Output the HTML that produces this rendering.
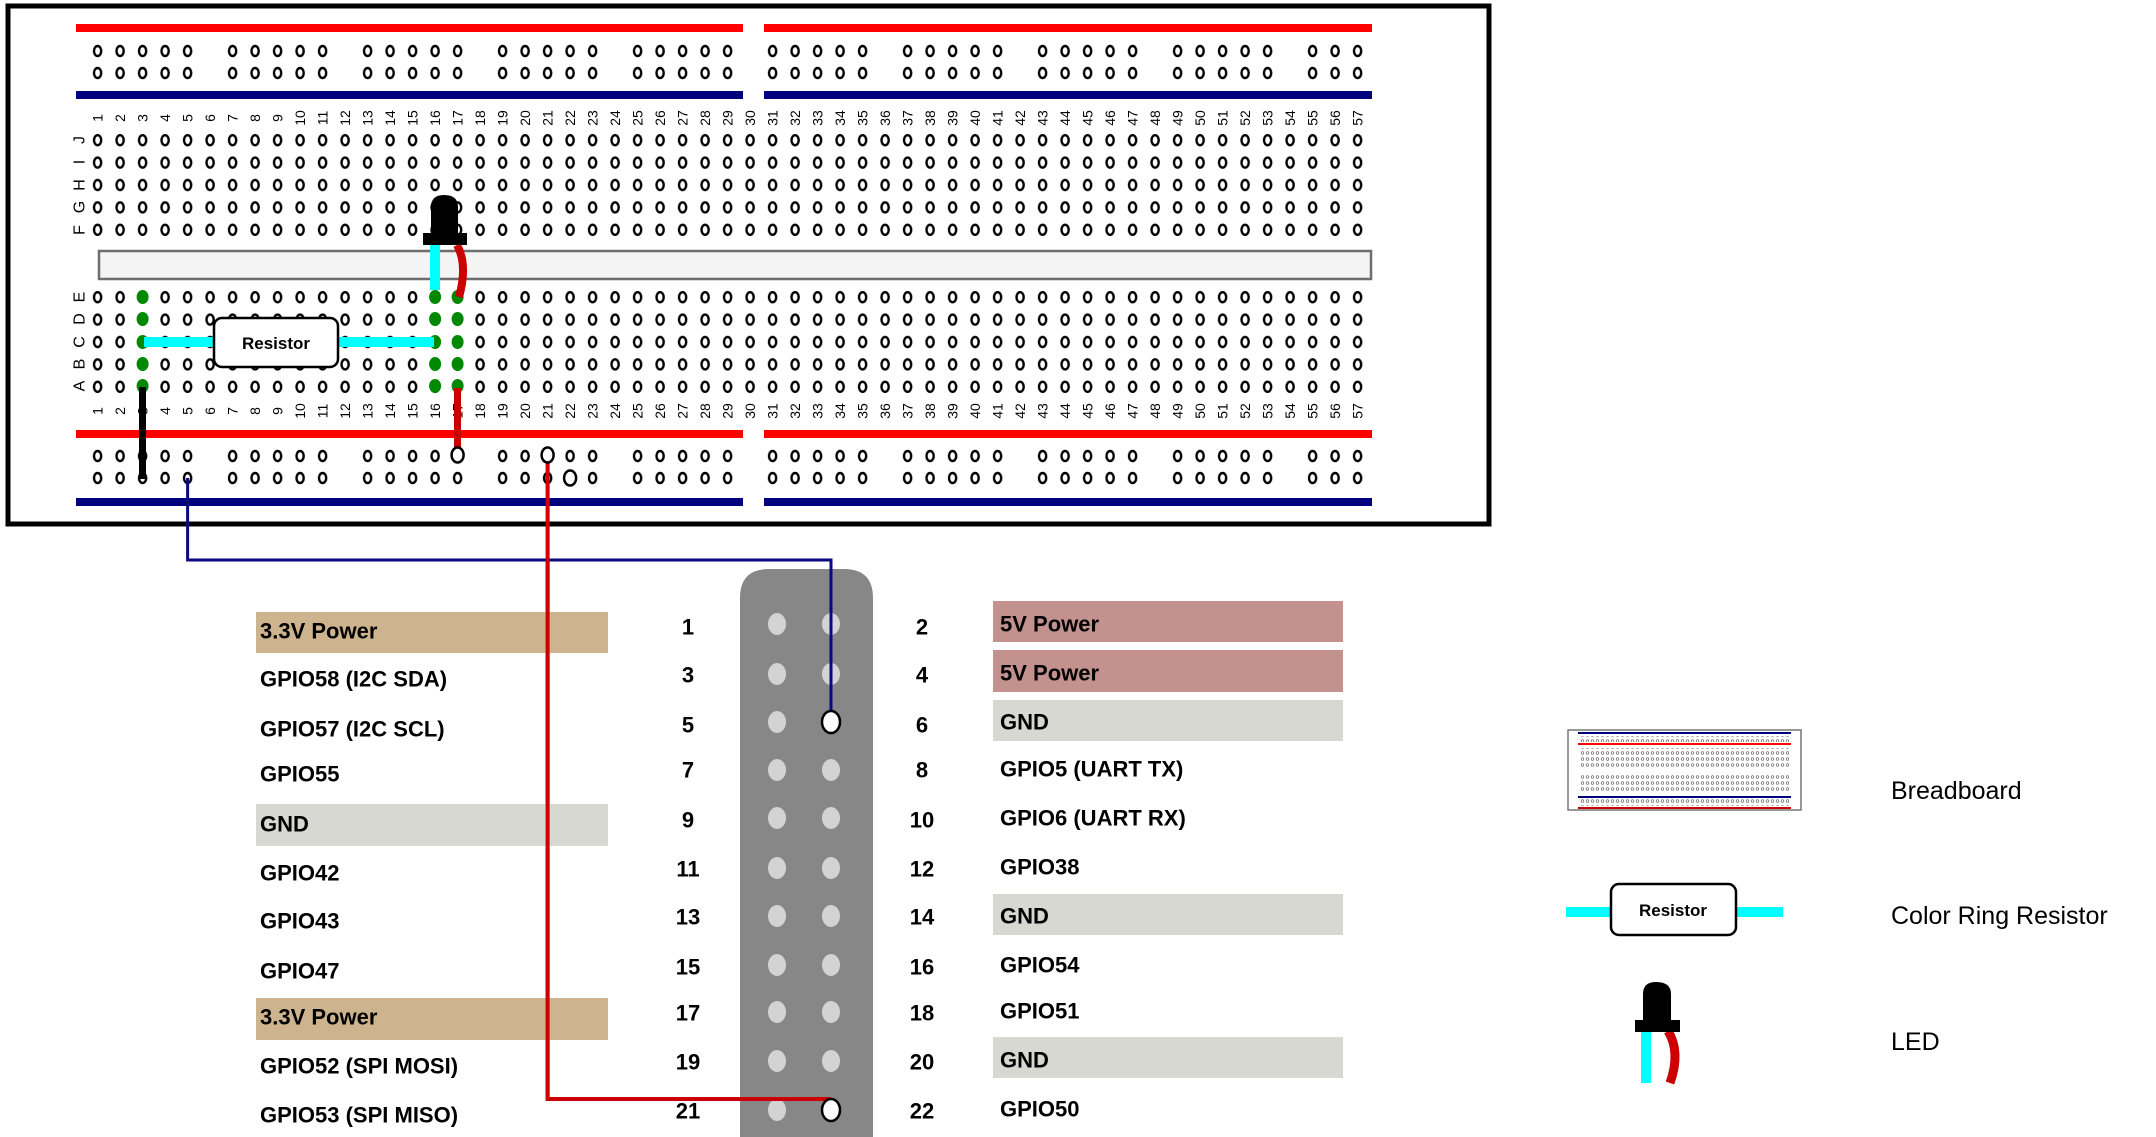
<!DOCTYPE html>
<html><head><meta charset="utf-8"><style>
html,body{margin:0;padding:0;background:#fff}
svg{display:block}
.n{font:14px "Liberation Sans",sans-serif;fill:#000}
.L{font:16px "Liberation Sans",sans-serif;fill:#000}
.p{font:bold 22px "Liberation Sans",sans-serif;fill:#000}
.g{font:25px "Liberation Sans",sans-serif;fill:#000}
</style></head><body>
<svg width="2156" height="1137" viewBox="0 0 2156 1137" xmlns="http://www.w3.org/2000/svg">
<defs>
<pattern id="h" x="86.35" y="129" width="22.5" height="22.4" patternUnits="userSpaceOnUse"><ellipse cx="11.25" cy="11.2" rx="3.6" ry="5" fill="#fff" stroke="#000" stroke-width="2.4"/></pattern>
<pattern id="hb" x="86.35" y="286" width="22.5" height="22.4" patternUnits="userSpaceOnUse"><ellipse cx="11.25" cy="11.2" rx="3.6" ry="5" fill="#fff" stroke="#000" stroke-width="2.4"/></pattern>
<pattern id="pt" x="86.35" y="40" width="22.5" height="22" patternUnits="userSpaceOnUse"><ellipse cx="11.25" cy="11" rx="3.6" ry="5" fill="#fff" stroke="#000" stroke-width="2.4"/></pattern>
<pattern id="pb" x="86.35" y="445" width="22.5" height="22" patternUnits="userSpaceOnUse"><ellipse cx="11.25" cy="11" rx="3.6" ry="5" fill="#fff" stroke="#000" stroke-width="2.4"/></pattern>
<pattern id="tiny" x="0" y="0" width="5" height="6" patternUnits="userSpaceOnUse"><circle cx="2.5" cy="3" r="1.3" fill="none" stroke="#666" stroke-width="0.7"/></pattern>
</defs>
<rect x="8" y="6" width="1481" height="518" fill="#fff" stroke="#000" stroke-width="5"/>
<g fill="#ff0000"><rect x="76" y="24" width="667" height="8"/><rect x="764" y="24" width="608" height="8"/><rect x="76" y="430" width="667" height="8"/><rect x="764" y="430" width="608" height="8"/></g>
<g fill="#00007f"><rect x="76" y="91" width="667" height="8"/><rect x="764" y="91" width="608" height="8"/><rect x="76" y="498" width="667" height="8"/><rect x="764" y="498" width="608" height="8"/></g>
<g fill="url(#pt)"><rect x="86.35" y="40" width="112.5" height="44"/><rect x="221.35" y="40" width="112.5" height="44"/><rect x="356.35" y="40" width="112.5" height="44"/><rect x="491.35" y="40" width="112.5" height="44"/><rect x="626.35" y="40" width="112.5" height="44"/><rect x="761.35" y="40" width="112.5" height="44"/><rect x="896.35" y="40" width="112.5" height="44"/><rect x="1031.35" y="40" width="112.5" height="44"/><rect x="1166.35" y="40" width="112.5" height="44"/><rect x="1301.35" y="40" width="67.5" height="44"/></g>
<g fill="url(#pb)"><rect x="86.35" y="445" width="112.5" height="44"/><rect x="221.35" y="445" width="112.5" height="44"/><rect x="356.35" y="445" width="112.5" height="44"/><rect x="491.35" y="445" width="112.5" height="44"/><rect x="626.35" y="445" width="112.5" height="44"/><rect x="761.35" y="445" width="112.5" height="44"/><rect x="896.35" y="445" width="112.5" height="44"/><rect x="1031.35" y="445" width="112.5" height="44"/><rect x="1166.35" y="445" width="112.5" height="44"/><rect x="1301.35" y="445" width="67.5" height="44"/></g>
<rect x="86.35" y="129" width="1282.5" height="112" fill="url(#h)"/>
<rect x="86.35" y="286" width="1282.5" height="112" fill="url(#hb)"/>
<rect x="99" y="251" width="1272" height="28" fill="#f4f4f4" stroke="#6e6e6e" stroke-width="2.5"/>
<g class="L" text-anchor="middle" dominant-baseline="central">
<text transform="translate(80,140) rotate(-90)">J</text><text transform="translate(80,162) rotate(-90)">I</text><text transform="translate(80,185) rotate(-90)">H</text><text transform="translate(80,207) rotate(-90)">G</text><text transform="translate(80,230) rotate(-90)">F</text>
<text transform="translate(80,297) rotate(-90)">E</text><text transform="translate(80,319) rotate(-90)">D</text><text transform="translate(80,342) rotate(-90)">C</text><text transform="translate(80,364) rotate(-90)">B</text><text transform="translate(80,386) rotate(-90)">A</text>
</g>
<g class="n" text-anchor="middle" dominant-baseline="central">
<text transform="translate(97.6,118) rotate(-90)">1</text><text transform="translate(120.1,118) rotate(-90)">2</text><text transform="translate(142.6,118) rotate(-90)">3</text><text transform="translate(165.1,118) rotate(-90)">4</text><text transform="translate(187.6,118) rotate(-90)">5</text><text transform="translate(210.1,118) rotate(-90)">6</text><text transform="translate(232.6,118) rotate(-90)">7</text><text transform="translate(255.1,118) rotate(-90)">8</text><text transform="translate(277.6,118) rotate(-90)">9</text><text transform="translate(300.1,118) rotate(-90)">10</text><text transform="translate(322.6,118) rotate(-90)">11</text><text transform="translate(345.1,118) rotate(-90)">12</text><text transform="translate(367.6,118) rotate(-90)">13</text><text transform="translate(390.1,118) rotate(-90)">14</text><text transform="translate(412.6,118) rotate(-90)">15</text><text transform="translate(435.1,118) rotate(-90)">16</text><text transform="translate(457.6,118) rotate(-90)">17</text><text transform="translate(480.1,118) rotate(-90)">18</text><text transform="translate(502.6,118) rotate(-90)">19</text><text transform="translate(525.1,118) rotate(-90)">20</text><text transform="translate(547.6,118) rotate(-90)">21</text><text transform="translate(570.1,118) rotate(-90)">22</text><text transform="translate(592.6,118) rotate(-90)">23</text><text transform="translate(615.1,118) rotate(-90)">24</text><text transform="translate(637.6,118) rotate(-90)">25</text><text transform="translate(660.1,118) rotate(-90)">26</text><text transform="translate(682.6,118) rotate(-90)">27</text><text transform="translate(705.1,118) rotate(-90)">28</text><text transform="translate(727.6,118) rotate(-90)">29</text><text transform="translate(750.1,118) rotate(-90)">30</text><text transform="translate(772.6,118) rotate(-90)">31</text><text transform="translate(795.1,118) rotate(-90)">32</text><text transform="translate(817.6,118) rotate(-90)">33</text><text transform="translate(840.1,118) rotate(-90)">34</text><text transform="translate(862.6,118) rotate(-90)">35</text><text transform="translate(885.1,118) rotate(-90)">36</text><text transform="translate(907.6,118) rotate(-90)">37</text><text transform="translate(930.1,118) rotate(-90)">38</text><text transform="translate(952.6,118) rotate(-90)">39</text><text transform="translate(975.1,118) rotate(-90)">40</text><text transform="translate(997.6,118) rotate(-90)">41</text><text transform="translate(1020.1,118) rotate(-90)">42</text><text transform="translate(1042.6,118) rotate(-90)">43</text><text transform="translate(1065.1,118) rotate(-90)">44</text><text transform="translate(1087.6,118) rotate(-90)">45</text><text transform="translate(1110.1,118) rotate(-90)">46</text><text transform="translate(1132.6,118) rotate(-90)">47</text><text transform="translate(1155.1,118) rotate(-90)">48</text><text transform="translate(1177.6,118) rotate(-90)">49</text><text transform="translate(1200.1,118) rotate(-90)">50</text><text transform="translate(1222.6,118) rotate(-90)">51</text><text transform="translate(1245.1,118) rotate(-90)">52</text><text transform="translate(1267.6,118) rotate(-90)">53</text><text transform="translate(1290.1,118) rotate(-90)">54</text><text transform="translate(1312.6,118) rotate(-90)">55</text><text transform="translate(1335.1,118) rotate(-90)">56</text><text transform="translate(1357.6,118) rotate(-90)">57</text>
</g>
<g class="n" text-anchor="middle" dominant-baseline="central">
<text transform="translate(97.6,411) rotate(-90)">1</text><text transform="translate(120.1,411) rotate(-90)">2</text><text transform="translate(142.6,411) rotate(-90)">3</text><text transform="translate(165.1,411) rotate(-90)">4</text><text transform="translate(187.6,411) rotate(-90)">5</text><text transform="translate(210.1,411) rotate(-90)">6</text><text transform="translate(232.6,411) rotate(-90)">7</text><text transform="translate(255.1,411) rotate(-90)">8</text><text transform="translate(277.6,411) rotate(-90)">9</text><text transform="translate(300.1,411) rotate(-90)">10</text><text transform="translate(322.6,411) rotate(-90)">11</text><text transform="translate(345.1,411) rotate(-90)">12</text><text transform="translate(367.6,411) rotate(-90)">13</text><text transform="translate(390.1,411) rotate(-90)">14</text><text transform="translate(412.6,411) rotate(-90)">15</text><text transform="translate(435.1,411) rotate(-90)">16</text><text transform="translate(457.6,411) rotate(-90)">17</text><text transform="translate(480.1,411) rotate(-90)">18</text><text transform="translate(502.6,411) rotate(-90)">19</text><text transform="translate(525.1,411) rotate(-90)">20</text><text transform="translate(547.6,411) rotate(-90)">21</text><text transform="translate(570.1,411) rotate(-90)">22</text><text transform="translate(592.6,411) rotate(-90)">23</text><text transform="translate(615.1,411) rotate(-90)">24</text><text transform="translate(637.6,411) rotate(-90)">25</text><text transform="translate(660.1,411) rotate(-90)">26</text><text transform="translate(682.6,411) rotate(-90)">27</text><text transform="translate(705.1,411) rotate(-90)">28</text><text transform="translate(727.6,411) rotate(-90)">29</text><text transform="translate(750.1,411) rotate(-90)">30</text><text transform="translate(772.6,411) rotate(-90)">31</text><text transform="translate(795.1,411) rotate(-90)">32</text><text transform="translate(817.6,411) rotate(-90)">33</text><text transform="translate(840.1,411) rotate(-90)">34</text><text transform="translate(862.6,411) rotate(-90)">35</text><text transform="translate(885.1,411) rotate(-90)">36</text><text transform="translate(907.6,411) rotate(-90)">37</text><text transform="translate(930.1,411) rotate(-90)">38</text><text transform="translate(952.6,411) rotate(-90)">39</text><text transform="translate(975.1,411) rotate(-90)">40</text><text transform="translate(997.6,411) rotate(-90)">41</text><text transform="translate(1020.1,411) rotate(-90)">42</text><text transform="translate(1042.6,411) rotate(-90)">43</text><text transform="translate(1065.1,411) rotate(-90)">44</text><text transform="translate(1087.6,411) rotate(-90)">45</text><text transform="translate(1110.1,411) rotate(-90)">46</text><text transform="translate(1132.6,411) rotate(-90)">47</text><text transform="translate(1155.1,411) rotate(-90)">48</text><text transform="translate(1177.6,411) rotate(-90)">49</text><text transform="translate(1200.1,411) rotate(-90)">50</text><text transform="translate(1222.6,411) rotate(-90)">51</text><text transform="translate(1245.1,411) rotate(-90)">52</text><text transform="translate(1267.6,411) rotate(-90)">53</text><text transform="translate(1290.1,411) rotate(-90)">54</text><text transform="translate(1312.6,411) rotate(-90)">55</text><text transform="translate(1335.1,411) rotate(-90)">56</text><text transform="translate(1357.6,411) rotate(-90)">57</text>
</g>
<g fill="#008800">
<ellipse cx="142.6" cy="297" rx="6" ry="7"/><ellipse cx="142.6" cy="319" rx="6" ry="7"/><ellipse cx="142.6" cy="342" rx="6" ry="7"/><ellipse cx="142.6" cy="364" rx="6" ry="7"/><ellipse cx="142.6" cy="386" rx="6" ry="7"/>
<ellipse cx="435.1" cy="297" rx="6" ry="7"/><ellipse cx="435.1" cy="319" rx="6" ry="7"/><ellipse cx="435.1" cy="342" rx="6" ry="7"/><ellipse cx="435.1" cy="364" rx="6" ry="7"/><ellipse cx="435.1" cy="386" rx="6" ry="7"/>
<ellipse cx="457.6" cy="297" rx="6" ry="7"/><ellipse cx="457.6" cy="319" rx="6" ry="7"/><ellipse cx="457.6" cy="342" rx="6" ry="7"/><ellipse cx="457.6" cy="364" rx="6" ry="7"/><ellipse cx="457.6" cy="386" rx="6" ry="7"/>
</g>
<rect x="144" y="337" width="290" height="10" fill="#00ffff"/>
<rect x="214" y="318" width="124" height="49" rx="8" fill="#fff" stroke="#000" stroke-width="2.5"/>
<text x="276" y="349" text-anchor="middle" style="font:bold 17px 'Liberation Sans',sans-serif">Resistor</text>
<rect x="430" y="244" width="10" height="46" fill="#00ffff"/>
<path d="M457 245 Q468 265 459 297" fill="none" stroke="#cc0000" stroke-width="8"/>
<path d="M431 245 V207 Q431 195 444 195 Q458 195 458 207 V245 Z" fill="#000"/>
<rect x="423" y="233" width="44" height="12" fill="#000"/>
<rect x="139" y="387" width="7" height="92" fill="#000"/>
<rect x="454" y="388" width="7" height="66" fill="#cc0000"/>
<ellipse cx="457.6" cy="455" rx="6" ry="7.5" fill="#fff" stroke="#000" stroke-width="2.5"/>
<!-- header -->
<path d="M740 1137 V598 Q740 569 769 569 H844 Q873 569 873 598 V1137 Z" fill="#878787"/>
<g fill="#d3d3d3">
<ellipse cx="777" cy="624" rx="9" ry="11"/><ellipse cx="777" cy="674" rx="9" ry="11"/><ellipse cx="777" cy="722" rx="9" ry="11"/><ellipse cx="777" cy="770" rx="9" ry="11"/><ellipse cx="777" cy="818" rx="9" ry="11"/><ellipse cx="777" cy="868" rx="9" ry="11"/><ellipse cx="777" cy="916" rx="9" ry="11"/><ellipse cx="777" cy="965" rx="9" ry="11"/><ellipse cx="777" cy="1012" rx="9" ry="11"/><ellipse cx="777" cy="1061" rx="9" ry="11"/><ellipse cx="777" cy="1110" rx="9" ry="11"/>
<ellipse cx="831" cy="624" rx="9" ry="11"/><ellipse cx="831" cy="674" rx="9" ry="11"/><ellipse cx="831" cy="770" rx="9" ry="11"/><ellipse cx="831" cy="818" rx="9" ry="11"/><ellipse cx="831" cy="868" rx="9" ry="11"/><ellipse cx="831" cy="916" rx="9" ry="11"/><ellipse cx="831" cy="965" rx="9" ry="11"/><ellipse cx="831" cy="1012" rx="9" ry="11"/><ellipse cx="831" cy="1061" rx="9" ry="11"/>
</g>
<!-- long wires -->
<polyline points="187.6,478 187.6,560 831,560 831,715" fill="none" stroke="#0a0a80" stroke-width="3"/>
<polyline points="547.6,462 547.6,1099 831,1099" fill="none" stroke="#cc0000" stroke-width="4"/>
<ellipse cx="547.6" cy="455" rx="6" ry="7.5" fill="#fff" stroke="#000" stroke-width="2.5"/>
<ellipse cx="570.1" cy="478" rx="6" ry="7.5" fill="#fff" stroke="#000" stroke-width="2.5"/>
<ellipse cx="831" cy="722" rx="9" ry="11" fill="#fff" stroke="#000" stroke-width="2.5"/>
<ellipse cx="831" cy="1110" rx="9" ry="11" fill="#fff" stroke="#000" stroke-width="2.5"/>
<g fill="#cdb48e"><rect x="256" y="612" width="352" height="41"/><rect x="256" y="998" width="352" height="42"/></g>
<rect x="256" y="804" width="352" height="42" fill="#d8d8d2"/>
<g fill="#c3918e"><rect x="993" y="601" width="350" height="41"/><rect x="993" y="650" width="350" height="42"/></g>
<g fill="#d8d8d2"><rect x="993" y="700" width="350" height="41"/><rect x="993" y="894" width="350" height="41"/><rect x="993" y="1037" width="350" height="41"/></g>
<polyline points="547.6,560 547.6,1099" fill="none" stroke="#cc0000" stroke-width="4"/>
<g class="p" dominant-baseline="central">
<text x="260" y="631">3.3V Power</text><text x="260" y="679">GPIO58 (I2C SDA)</text><text x="260" y="729">GPIO57 (I2C SCL)</text><text x="260" y="774">GPIO55</text><text x="260" y="824">GND</text><text x="260" y="873">GPIO42</text><text x="260" y="921">GPIO43</text><text x="260" y="971">GPIO47</text><text x="260" y="1017">3.3V Power</text><text x="260" y="1066">GPIO52 (SPI MOSI)</text><text x="260" y="1115">GPIO53 (SPI MISO)</text>
</g>
<g class="p" dominant-baseline="central" text-anchor="middle">
<text x="688" y="627">1</text><text x="688" y="675">3</text><text x="688" y="725">5</text><text x="688" y="770">7</text><text x="688" y="820">9</text><text x="688" y="869">11</text><text x="688" y="917">13</text><text x="688" y="967">15</text><text x="688" y="1013">17</text><text x="688" y="1062">19</text><text x="688" y="1111">21</text>
<text x="922" y="627">2</text><text x="922" y="675">4</text><text x="922" y="725">6</text><text x="922" y="770">8</text><text x="922" y="820">10</text><text x="922" y="869">12</text><text x="922" y="917">14</text><text x="922" y="967">16</text><text x="922" y="1013">18</text><text x="922" y="1062">20</text><text x="922" y="1111">22</text>
</g>
<g class="p" dominant-baseline="central">
<text x="1000" y="624">5V Power</text><text x="1000" y="673">5V Power</text><text x="1000" y="722">GND</text><text x="1000" y="769">GPIO5 (UART TX)</text><text x="1000" y="818">GPIO6 (UART RX)</text><text x="1000" y="867">GPIO38</text><text x="1000" y="916">GND</text><text x="1000" y="965">GPIO54</text><text x="1000" y="1011">GPIO51</text><text x="1000" y="1060">GND</text><text x="1000" y="1109">GPIO50</text>
</g>
<rect x="1568" y="730" width="233" height="80" fill="#fff" stroke="#777" stroke-width="1.5"/>
<rect x="1578" y="732" width="213" height="2" fill="#00007f"/><rect x="1578" y="743" width="213" height="2" fill="#ff0000"/>
<rect x="1580" y="736" width="209" height="6" fill="url(#tiny)"/>
<rect x="1580" y="748" width="209" height="20" fill="url(#tiny)"/>
<rect x="1580" y="773" width="209" height="20" fill="url(#tiny)"/>
<rect x="1578" y="796" width="213" height="2" fill="#00007f"/><rect x="1578" y="807" width="213" height="2" fill="#cc0000"/>
<rect x="1580" y="799" width="209" height="7" fill="url(#tiny)"/>
<text x="1891" y="791" class="g" dominant-baseline="central">Breadboard</text>
<rect x="1566" y="907" width="217" height="10" fill="#00ffff"/>
<rect x="1611" y="884" width="125" height="51" rx="8" fill="#fff" stroke="#000" stroke-width="2.5"/>
<text x="1673" y="916" text-anchor="middle" style="font:bold 17px 'Liberation Sans',sans-serif">Resistor</text>
<text x="1891" y="916" class="g" dominant-baseline="central">Color Ring Resistor</text>
<rect x="1641" y="1030" width="10" height="53" fill="#00ffff"/>
<path d="M1668 1031 Q1681 1052 1670 1083" fill="none" stroke="#cc0000" stroke-width="9"/>
<path d="M1643 1032 V994 Q1643 982 1656 982 Q1671 982 1671 994 V1032 Z" fill="#000"/>
<rect x="1635" y="1020" width="45" height="12" fill="#000"/>
<text x="1891" y="1042" class="g" dominant-baseline="central">LED</text>
</svg>
</body></html>
